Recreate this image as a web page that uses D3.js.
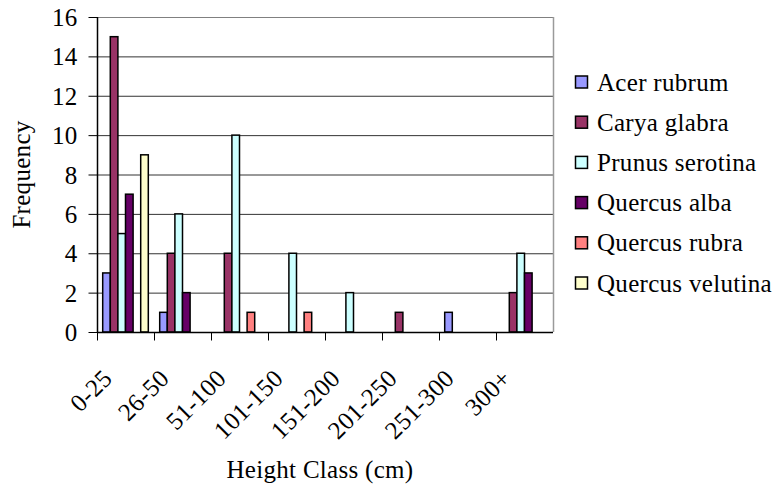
<!DOCTYPE html>
<html>
<head>
<meta charset="utf-8">
<script src="https://cdn.jsdelivr.net/npm/d3@7"></script>
<style>
  html, body { margin: 0; padding: 0; background: #fff; }
  svg { display: block; }
  svg text { font-family: "Liberation Serif", "Times New Roman", serif; fill: #000; letter-spacing: 0.3px; }
</style>
</head>
<body>
<svg id="chart" width="776" height="491"></svg>
<script>
// Height classes (cm) on the x axis
const categories = ["0-25", "26-50", "51-100", "101-150", "151-200", "201-250", "251-300", "300+"];

// Species counts per height class
const species = ["Acer rubrum", "Carya glabra", "Prunus serotina", "Quercus alba", "Quercus rubra", "Quercus velutina"];
const acerRubrum      = [3, 1, 0, 0, 0, 0, 1, 0];
const caryaGlabra     = [15, 4, 4, 0, 0, 1, 0, 2];
const prunusSerotina  = [5, 6, 10, 4, 2, 0, 0, 4];
const quercusAlba     = [7, 2, 0, 0, 0, 0, 0, 3];
const quercusRubra    = [0, 0, 1, 1, 0, 0, 0, 0];
const quercusVelutina = [9, 0, 0, 0, 0, 0, 0, 0];
const seriesValues = [acerRubrum, caryaGlabra, prunusSerotina, quercusAlba, quercusRubra, quercusVelutina];
const colors = ["#9999FF", "#993366", "#CCFFFF", "#660066", "#FF8080", "#FFFFCC"];

const yTicks = [0, 2, 4, 6, 8, 10, 12, 14, 16];

const svg = d3.select("#chart");
const plot = { left: 97, right: 553, top: 17, bottom: 332 };
const fontSize = 25;

const x0 = d3.scaleBand().domain(categories).range([plot.left, plot.right]).padding(0);
// six bars plus a gap of 1.5 bar widths per class
const barW = x0.bandwidth() / (species.length + 1.5);
const x1 = d3.scaleBand().domain(species)
  .range([barW * 0.75, barW * 0.75 + barW * species.length]).padding(0);
const y = d3.scaleLinear().domain([0, 16]).range([plot.bottom, plot.top]);

// gridlines
svg.append("g").selectAll("line").data(yTicks.filter(d => d > 0)).join("line")
  .attr("x1", plot.left).attr("x2", plot.right)
  .attr("y1", d => y(d) + 0.5).attr("y2", d => y(d) + 0.5)
  .attr("stroke", d => d === 16 ? "#808080" : "#333").attr("stroke-width", 1);

// plot border on the right
svg.append("line")
  .attr("x1", plot.right + 0.5).attr("x2", plot.right + 0.5)
  .attr("y1", plot.top).attr("y2", plot.bottom)
  .attr("stroke", "#9a9a9a").attr("stroke-width", 1.5);

// bars
const groups = svg.append("g").selectAll("g").data(categories).join("g")
  .attr("transform", d => `translate(${x0(d)},0)`);
groups.selectAll("rect")
  .data((c, ci) => species.map((s, si) => ({ s, si, v: seriesValues[si][ci] })).filter(d => d.v > 0))
  .join("rect")
  .attr("x", d => x1(d.s))
  .attr("y", d => y(d.v))
  .attr("width", x1.bandwidth())
  .attr("height", d => y(0) - y(d.v))
  .attr("fill", d => colors[d.si])
  .attr("stroke", "#000").attr("stroke-width", 1.5);

// y axis
const yAxis = svg.append("g").attr("transform", `translate(${plot.left + 0.5},0)`)
  .call(d3.axisLeft(y).tickValues(yTicks).tickSize(9).tickPadding(11).tickFormat(d3.format("d")));
yAxis.attr("font-family", null);
yAxis.select(".domain").attr("stroke", "#000").attr("stroke-width", 1.5).attr("d", `M0,${plot.top}V${plot.bottom}`);
yAxis.selectAll(".tick line").attr("stroke", "#000");
yAxis.selectAll(".tick text").attr("font-size", fontSize).attr("dy", "0.34em");

// x axis with ticks at class boundaries
const xAxisG = svg.append("g").attr("transform", `translate(0,${plot.bottom + 0.5})`);
xAxisG.append("line").attr("x1", plot.left).attr("x2", plot.right)
  .attr("stroke", "#000").attr("stroke-width", 1.5);
const bounds = categories.map(c => x0(c));
xAxisG.selectAll("line.tk").data(bounds).join("line").attr("class", "tk")
  .attr("x1", d => Math.round(d) + 0.5).attr("x2", d => Math.round(d) + 0.5)
  .attr("y1", 0).attr("y2", 8).attr("stroke", "#000");
xAxisG.selectAll("text").data(categories).join("text")
  .attr("transform", d => `translate(${x0(d) + x0.bandwidth() / 2 - 12},${47.5}) rotate(-45)`)
  .attr("text-anchor", "end")
  .attr("font-size", fontSize)
  .text(d => d);

// axis titles
svg.append("text")
  .attr("transform", `translate(30,${(plot.top + plot.bottom) / 2}) rotate(-90)`)
  .attr("text-anchor", "middle").attr("font-size", fontSize).text("Frequency");
svg.append("text")
  .attr("x", 320).attr("y", 478)
  .attr("text-anchor", "middle").attr("font-size", fontSize).text("Height Class (cm)");

// legend
const legend = svg.append("g").attr("transform", "translate(575,82)");
const items = legend.selectAll("g").data(species).join("g")
  .attr("transform", (d, i) => `translate(0,${i * 40.2})`);
items.append("rect").attr("x", 0.5).attr("y", -6).attr("width", 12).attr("height", 12)
  .attr("fill", (d, i) => colors[i]).attr("stroke", "#000").attr("stroke-width", 1.5);
items.append("text").attr("x", 22).attr("y", 8.5).attr("font-size", fontSize).text(d => d);
</script>
</body>
</html>
